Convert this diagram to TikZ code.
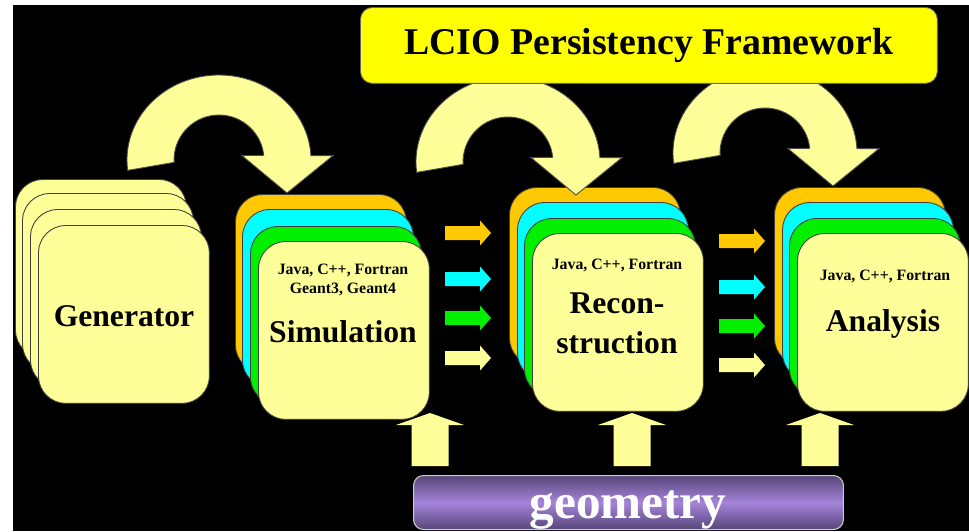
\documentclass[tikz,border=0pt]{standalone}
\usepackage{fontspec}
\setmainfont{Liberation Serif}
\usetikzlibrary{positioning}
\definecolor{paleyel}{RGB}{255,255,153}
\definecolor{stackorange}{RGB}{255,200,0}
\definecolor{stackcyan}{RGB}{0,255,255}
\definecolor{stackgreen}{RGB}{0,240,0}
\definecolor{titleyel}{RGB}{255,255,0}
\definecolor{geodark}{RGB}{86,70,120}
\definecolor{geolight}{RGB}{166,132,218}
\tikzset{
  card/.style={draw=black!75, line width=0.5pt, rounded corners=0.55cm,
    minimum width=3.42cm, minimum height=3.56cm, inner sep=0pt, anchor=north west},
  biglbl/.style={font=\fontsize{18}{22.7}\selectfont\bfseries, align=center},
  smalllbl/.style={font=\fontsize{9}{10.8}\selectfont\bfseries, align=center},
  titlebox/.style={draw=black!60, line width=0.5pt, fill=titleyel, rounded corners=0.24cm,
    minimum width=11.54cm, minimum height=1.52cm, anchor=north west,
    font=\fontsize{21.5}{26}\selectfont\bfseries},
  geobox/.style={draw=gray!40, line width=0.6pt, rounded corners=0.2cm,
    top color=geodark, bottom color=geodark, middle color=geolight,
    minimum width=8.6cm, minimum height=1.08cm, anchor=north west},
  geolbl/.style={text=white, font=\fontsize{28}{30}\selectfont\bfseries, anchor=base},
  % block arrows
  rarrow/.pic={\fill[pic actions] (0,-7) -- (35,-7) -- (35,-12.5) -- (46,0)
    -- (35,12.5) -- (35,7) -- (0,7) -- cycle;},
  uparrow/.pic={\fill[pic actions] (0,0) -- (34,12) -- (18.5,12) -- (18.5,53)
    -- (-18.5,53) -- (-18.5,12) -- (-34,12) -- cycle;},
  bentarrow/.pic={\filldraw[pic actions] (173:92 and 85)
    arc[start angle=173, end angle=357, x radius=92, y radius=85]
    -- (114,-4.4) -- (68,33) -- (23,-4.4) -- (354:45)
    arc[start angle=354, end angle=177, radius=45] -- cycle;}
}
\begin{document}
\begin{tikzpicture}[x=0.02cm, y=-0.02cm]
  \useasboundingbox (0,0) rectangle (969,531);
  \clip (0,0) rectangle (969,531);
  \fill[white] (0,0) rectangle (969,531);
  \fill[black] (13,5) rectangle (969,531);

  % generator stack
  \foreach \dx/\dy [count=\i] in {0/0, 7/14, 15/30, 23/46}
    \node[card, fill=paleyel] (gen\i) at (15+\dx,179+\dy) {};

  % simulation, reconstruction, analysis stacks
  \foreach \c/\dx/\dy [count=\i] in {stackorange/0/0, stackcyan/7/15, stackgreen/15/32, paleyel/23/47}
    \node[card, fill=\c] (sim\i) at (235+\dx,194+\dy) {};
  \foreach \c/\dx/\dy [count=\i] in {stackorange/0/0, stackcyan/8/15, stackgreen/15/31, paleyel/23/46}
    \node[card, fill=\c] (rec\i) at (509+\dx,187+\dy) {};
  \foreach \c/\dx/\dy [count=\i] in {stackorange/0/0, stackcyan/8/15, stackgreen/15/31, paleyel/23/46}
    \node[card, fill=\c] (ana\i) at (774+\dx,187+\dy) {};

  \node[biglbl] (gentxt) at (124,316) {Generator};
  \node[smalllbl] (simlang) at (343,280) {Java, C++, Fortran\\Geant3, Geant4};
  \node[biglbl] (simtxt) at (343,332) {Simulation};
  \node[smalllbl] (reclang) at (617,265) {Java, C++, Fortran};
  \node[biglbl] (rectxt) at (617,323) {Recon-\\struction};
  \node[smalllbl] (analang) at (885,276) {Java, C++, Fortran};
  \node[biglbl] (anatxt) at (883,324) {Analysis};

  % data flow arrows
  \foreach \c/\y in {stackorange/233, stackcyan/279, stackgreen/318, paleyel/358}
    \pic[fill=\c] at (445,\y) {rarrow};
  \foreach \c/\y in {stackorange/241, stackcyan/287, stackgreen/326, paleyel/365}
    \pic[fill=\c] at (719,\y) {rarrow};
  \foreach \x in {430,632,820}
    \pic[fill=paleyel] at (\x,413) {uparrow};

  \pic[fill=paleyel, draw=black!70, line width=0.5pt] at (219,160) {bentarrow};
  \pic[fill=paleyel, draw=black!70, line width=0.5pt] at (508,162) {bentarrow};
  \pic[fill=paleyel, draw=black!70, line width=0.5pt] at (765,153) {bentarrow};

  \node[titlebox] (title) at (360,7) {LCIO Persistency Framework};
  \node[geobox] (geom) at (413,475) {};
  \node[geolbl] (geomtxt) at (628,518) {geometry};
\end{tikzpicture}
\end{document}
